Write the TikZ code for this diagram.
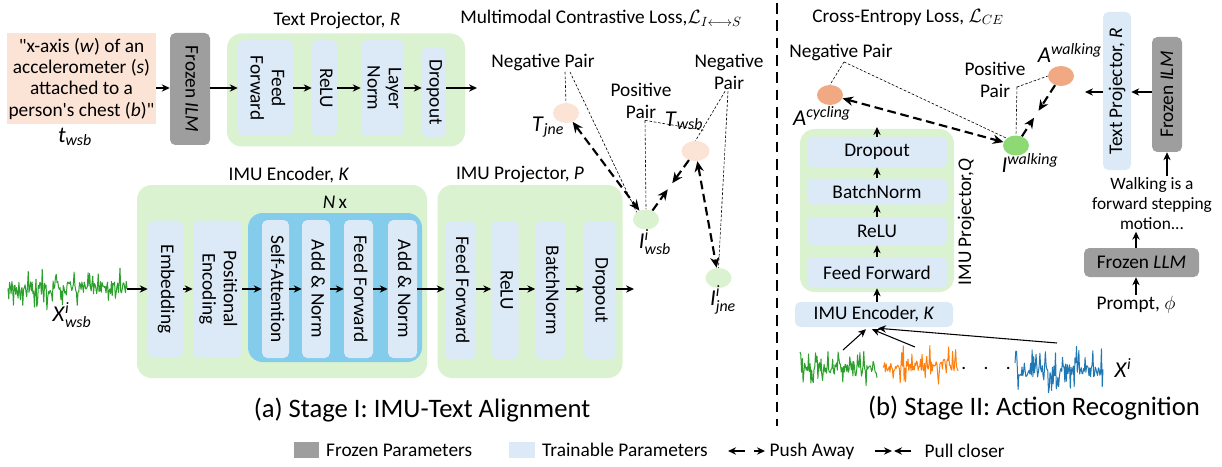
\documentclass[tikz,border=0pt]{standalone}
\usepackage{amsmath}
\usepackage{amssymb}
\usepackage{graphicx}
\usepackage[no-math]{fontspec}
\setmainfont{Carlito}
\usetikzlibrary{arrows.meta,positioning,calc,shapes.geometric}

\definecolor{greenbg}{HTML}{DAF2D0}
\definecolor{trainblue}{HTML}{DCEAF7}
\definecolor{blockblue}{HTML}{83CCEB}
\definecolor{frozengray}{HTML}{9E9E9E}
\definecolor{peach}{HTML}{FBE3D6}
\definecolor{actorange}{HTML}{F1A983}
\definecolor{imugreen}{HTML}{8ED973}
\definecolor{sigg}{HTML}{2CA02C}
\definecolor{sigo}{HTML}{FF7F0E}
\definecolor{sigb}{HTML}{1F77B4}

\newcommand{\vtxt}[1]{\rotatebox{-90}{\begin{tabular}{@{}c@{}}#1\end{tabular}}}
\newcommand{\utxt}[1]{\rotatebox{90}{#1}}
\newcommand{\lsub}[1]{$_{\text{\itshape #1}}$}
\newcommand{\lsup}[1]{$^{\text{\itshape #1}}$}
\newcommand{\lsupsub}[2]{$^{\text{\itshape #1}}_{\text{\itshape #2}}$}
% from, to, centre y, spread, colour, seed
\newcommand{\imuwave}[6]{%
  \pgfmathsetseed{#6}%
  \pgfmathtruncatemacro\nsamp{(#2-#1)*1.3}%
  \draw[#5, line width=0.75pt, line join=round]
    plot[domain=#1:#2, samples=\nsamp, variable=\t] (\t, {#3 + #4*rand*(abs(rand)>0.65 ? 1 : 0.3)});}

\begin{document}
\begin{tikzpicture}[x=0.75pt,y=-0.75pt,font=\fontsize{14.5}{16}\selectfont,
  >={Stealth[length=6pt,width=5.5pt]},
  every edge/.style={draw,line width=0.8pt},
  sz/.style 2 args={minimum width={#1*0.75pt},minimum height={#2*0.75pt}},
  outer/.style={fill=greenbg,rounded corners=11pt,inner sep=0pt},
  layer/.style={fill=trainblue,rounded corners=4pt,inner sep=0pt},
  frozenbox/.style={fill=frozengray,rounded corners=4pt,inner sep=0pt},
  vec/.style={ellipse,inner sep=0pt,sz={26}{20}},
  lbl/.style={inner sep=1pt},
  twoline/.style={align=center,inner sep=1pt,font=\fontsize{14.5}{16.5}\selectfont},
  sym/.style={font=\fontsize{17}{18}\selectfont,inner sep=0pt},
  pairline/.style={dash pattern=on 2pt off 1.3pt,line width=0.45pt},
  push/.style={<->,>={Stealth[length=8pt,width=7pt]},line width=1.6pt,dash pattern=on 6.5pt off 3.5pt},
  pull/.style={->,>={Stealth[length=8pt,width=7pt]},line width=1.6pt,dash pattern=on 6.5pt off 3.5pt},
  legarrow/.style={->,line width=1pt}]
\useasboundingbox (0,0) rectangle (1222,467);

% stage I, text branch
\node[fill=peach, sz={149}{91}, inner sep=0pt, align=center] (desc) at (81.5,78.5)
  {\textquotedbl x-axis (\textit{w}) of an\\accelerometer (\textit{s})\\attached to a\\person\textquotesingle s chest (\textit{b})\textquotedbl};
\node[sym] (twsb) at (75,137) {\textit{t}\lsub{wsb}};
\node[frozenbox, sz={40}{112}] (frzA) at (190,89) {\vtxt{Frozen \textit{ILM}}};

\node[outer, sz={238}{113}] (tproj) at (346,90) {};
\node[lbl] (tprojlbl) at (337,21) {Text Projector, \textit{R}};
\node[layer, sz={55}{96}] (tff) at (265.5,88) {\vtxt{Feed\\Forward}};
\node[layer, sz={25}{96}] (trelu) at (324.5,88) {\vtxt{ReLU}};
\node[layer, sz={43}{96}] (tln) at (382.5,88) {\vtxt{Layer\\Norm}};
\node[layer, sz={24}{90}] (tdrop) at (434,92) {\vtxt{Dropout}};
\coordinate (tout) at (477,88);

\path[->]
(desc.east |- tff) edge (frzA.west |- tff)
(frzA.east |- tff) edge (tff.west)
(tff) edge (trelu)
(trelu) edge (tln)
(tln) edge (tdrop.west |- tln)
(tdrop.east |- tln) edge (tout)
; %end path

% stage I, IMU branch
\imuwave{8}{127}{288}{22}{sigg}{3}
\coordinate (xin) at (127,289);
\node[sym] (xwsb) at (72,315) {\textit{X}\lsupsub{i}{wsb}};

\node[outer, sz={290}{193}] (enc) at (282,281.5) {};
\node[lbl] (enclbl) at (289,175) {IMU Encoder, \textit{K}};
\node[lbl] (nx) at (335,202) {\textit{N}\,x};
\node[fill=blockblue, rounded corners=11pt, inner sep=0pt, sz={174}{149}] (blk) at (335,287.5) {};
\node[layer, sz={35}{137}] (embd) at (165.5,289) {\vtxt{Embedding}};
\node[layer, sz={49}{137}] (pos) at (217.5,289) {\vtxt{Positional\\Encoding}};
\node[layer, sz={27}{138}] (sa) at (275.5,289) {\vtxt{Self-Attention}};
\node[layer, sz={28}{138}] (an1) at (316,289) {\vtxt{Add \& Norm}};
\node[layer, sz={29}{138}] (eff) at (358.5,289) {\vtxt{Feed Forward}};
\node[layer, sz={29}{138}] (an2) at (402.5,289) {\vtxt{Add \& Norm}};

\node[outer, sz={185}{193}] (pproj) at (530,281.5) {};
\node[lbl] (pprojlbl) at (520,175) {IMU Projector, \textit{P}};
\node[layer, sz={31}{138}] (pff) at (460.5,290) {\vtxt{Feed Forward}};
\node[layer, sz={27}{138}] (prelu) at (505,290) {\vtxt{ReLU}};
\node[layer, sz={30}{138}] (pbn) at (550.5,290) {\vtxt{BatchNorm}};
\node[layer, sz={32}{138}] (pdrop) at (600,290) {\vtxt{Dropout}};
\coordinate (pout) at (634,289);

\path[->]
(xin) edge (embd.west |- xin)
(embd) edge (pos)
(pos) edge (sa)
(sa) edge (an1)
(an1) edge (eff)
(eff) edge (an2)
(an2) edge (pff.west |- an2)
(pff.east |- an2) edge (prelu.west |- an2)
(prelu.east |- an2) edge (pbn.west |- an2)
(pbn.east |- an2) edge (pdrop.west |- an2)
(pdrop.east |- an2) edge (pout)
; %end path

% contrastive loss
\node[lbl] (ctitle) at (601,18) {Multimodal Contrastive Loss,$\mathcal{L}_{I\longleftrightarrow S}$};
\node[lbl] (neg1) at (543,62) {Negative Pair};
\node[vec, fill=peach] (tjne) at (566,113) {};
\node[sym] (tjnelbl) at (548,127) {\textit{T}\lsub{jne}};
\node[twoline] (pos1) at (641,101) {Positive\\Pair};
\node[vec, fill=peach, sz={28}{20}] (twsbv) at (695.5,151) {};
\node[sym] (twsblbl) at (684,121) {\textit{T}\lsub{wsb}};
\node[twoline] (neg2) at (729,72) {Negative\\Pair};
\node[vec, fill=greenbg] (iwsb) at (646,219.5) {};
\node[sym] (iwsblbl) at (655,242) {\textit{I}\lsupsub{i}{wsb}};
\node[vec, fill=greenbg] (ijne) at (718.5,278) {};
\node[sym] (ijnelbl) at (723,300) {\textit{I}\lsupsub{i}{jne}};

\draw[pairline] ($(neg1.south)+(22,0)$) -- (tjne.north);
\draw[pairline] ($(neg1.south)+(27,0)$) -- (iwsb.north west);
\draw[pairline] ($(pos1.south)+(4,0)$) -- (iwsb.north);
\draw[pairline] ($(pos1.south)+(4,0)$) -- (twsblbl.south east);
\draw[pairline] ($(neg2.south)+(-4,0)$) -- (twsbv.north);
\draw[pairline] ($(neg2.south)+(-1,0)$) -- (ijne.north);

\draw[push] (tjne) -- (iwsb);
\draw[pull] (twsbv) -- ($(twsbv)!0.47!(iwsb)$);
\draw[pull] (iwsb) -- ($(twsbv)!0.56!(iwsb)$);
\draw[push] (twsbv) -- (ijne);

% divider
\coordinate (divtop) at (777,3);
\coordinate (divbot) at (777,426);
\draw[line width=1.5pt, dash pattern=on 8pt off 5pt] (divtop) -- (divbot);

% stage II
\node[lbl] (cetitle) at (908,17) {Cross-Entropy Loss, $\mathcal{L}_{CE}$};
\node[lbl] (neg3) at (841,52) {Negative Pair};
\node[vec, fill=actorange] (acyc) at (830,95) {};
\node[sym] (acyclbl) at (822,116) {\textit{A}\lsup{cycling}};
\node[twoline] (pos2) at (995,80) {Positive\\Pair};
\node[vec, fill=actorange] (awalk) at (1061,76) {};
\node[sym] (awalklbl) at (1070,53) {\textit{A}\lsup{walking}};
\node[vec, fill=imugreen] (iwalk) at (1016,145.5) {};
\node[sym] (iwalklbl) at (1030,163) {\textit{I}\lsup{walking}};

\draw[pairline] ($(neg3.south)+(3,0)$) -- (acyc.north);
\draw[pairline] ($(neg3.south)+(3,0)$) -- (iwalk.north west);
\draw[pairline] ($(pos2.east)+(-10,7)$) -- (awalk.west);
\draw[pairline] ($(pos2.east)+(-10,7)$) -- (iwalk.north);

\draw[push] (acyc) -- (iwalk);
\draw[pull] (awalk) -- ($(awalk)!0.5!(iwalk)$);
\draw[pull] (iwalk) -- ($(awalk)!0.6!(iwalk)$);

\node[outer, sz={154}{163}] (qproj) at (877,210.5) {};
\node[lbl] (qlbl) at (966,222) {\utxt{IMU Projector,\textit{Q}}};
\node[layer, sz={140}{30}] (qdrop) at (877,152) {Dropout};
\node[layer, sz={140}{26}] (qbn) at (877,191.5) {BatchNorm};
\node[layer, sz={140}{28}] (qrelu) at (877,231) {ReLU};
\node[layer, sz={140}{31}] (qff) at (877,272.5) {Feed Forward};
\node[layer, sz={158}{25}] (enck) at (874,314.5) {IMU Encoder, \textit{K}};
\coordinate (qout) at (877,127);

\path[->]
(enck.north -| qff) edge (qff.south)
(qff) edge (qrelu)
(qrelu) edge (qbn)
(qbn) edge (qdrop)
(qdrop) edge (qout)
; %end path

\imuwave{800}{877}{368}{18}{sigg}{5}
\imuwave{883}{958}{365}{20}{sigo}{11}
\imuwave{1015}{1103}{370}{24}{sigb}{17}
\node[lbl] (dots) at (986,368) {.\hspace{13pt}.\hspace{13pt}.};
\node[sym] (xi) at (1123,368) {\textit{X}\lsup{i}};
\coordinate (sg1) at (843,350);
\coordinate (sg2) at (915,347);
\coordinate (sg3) at (1057,343);
\draw[->, line width=0.8pt] (sg1) -- ($(enck.south)+(-8,2)$);
\draw[->, line width=0.8pt] (sg2) -- ($(enck.south)+(-2,2)$);
\draw[->, line width=0.8pt] (sg3) -- ($(enck.south)+(4,1)$);

\node[layer, sz={28}{158}] (tpr) at (1117,91) {\utxt{Text Projector, \textit{R}}};
\node[frozenbox, sz={30}{115}] (frzB) at (1167,94.5) {\utxt{Frozen \textit{ILM}}};
\coordinate (rout) at (1085,92);
\node[align=center, inner sep=1pt, font=\fontsize{13}{15}\selectfont] (walk) at (1152,204) {Walking is a\\forward stepping\\motion...};
\node[frozenbox, sz={115}{29}] (frzC) at (1141.5,262.5) {Frozen \textit{LLM}};
\node[lbl] (prompt) at (1136,305) {Prompt, $\phi$};

\path[->]
(frzB.west |- rout) edge (tpr.east |- rout)
(tpr.west |- rout) edge (rout)
(walk.north -| frzB) edge (frzB.south)
(frzC.north -| prompt) edge (walk.south -| prompt)
(prompt) edge (frzC.south -| prompt)
; %end path

% captions and legend
\node[font=\fontsize{20}{22}\selectfont] (capa) at (422,410) {(a) Stage I: IMU-Text Alignment};
\node[font=\fontsize{20}{22}\selectfont] (capb) at (1034,408) {(b) Stage II: Action Recognition};

\node[fill=frozengray, inner sep=0pt, sz={25}{16}] (legfrz) at (306.5,450) {};
\node[lbl, right=4pt of legfrz] (legfrztxt) {Frozen Parameters};
\node[fill=trainblue, inner sep=0pt, sz={26}{16}] (legtr) at (522,450) {};
\node[lbl, right=4pt of legtr] (legtrtxt) {Trainable Parameters};
\node[lbl, anchor=west] (legpush) at (768,451) {Push Away};
\node[lbl, anchor=west] (legpull) at (923,451) {Pull closer};
\draw[legarrow] ($(legpush.west)+(-23,0)$) -- ++(-17,0);
\draw[legarrow] ($(legpush.west)+(-14,0)$) -- ++(11,0);
\draw[legarrow] ($(legpull.west)+(-48,0)$) -- ++(17,0);
\draw[legarrow] ($(legpull.west)+(-12,0)$) -- ++(-17,0);
\end{tikzpicture}
\end{document}
